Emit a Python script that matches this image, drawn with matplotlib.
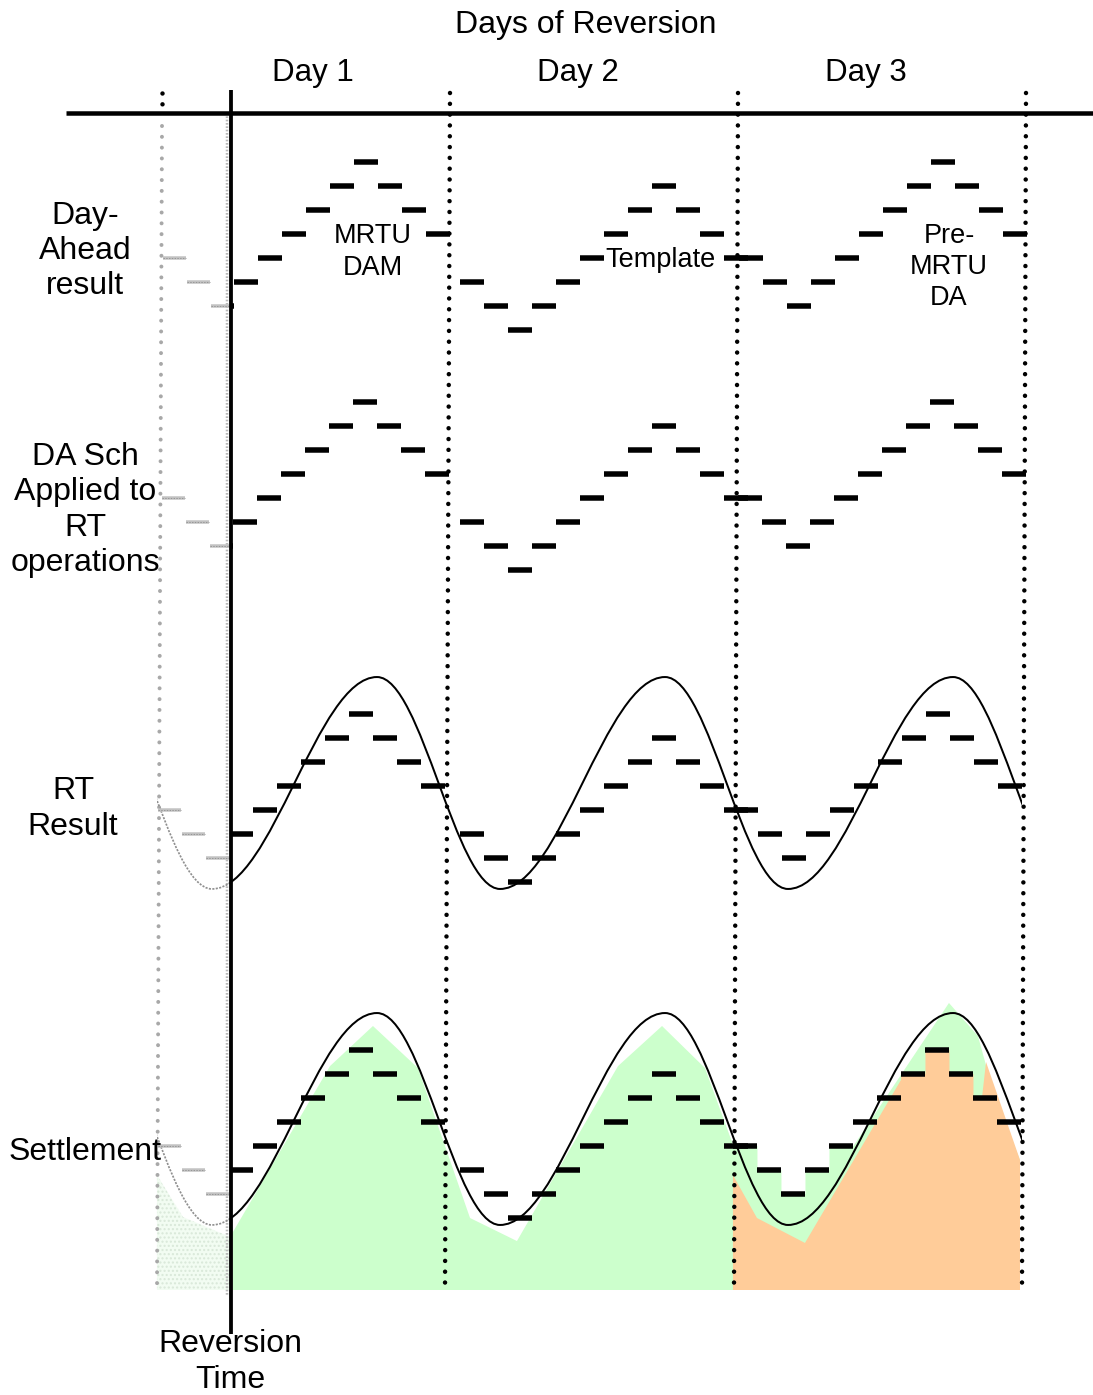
import matplotlib.pyplot as plt
from matplotlib.path import Path
from matplotlib.patches import PathPatch, Polygon, Rectangle

plt.rcParams["font.family"] = ["Liberation Sans", "DejaVu Sans"]
plt.rcParams["lines.scale_dashes"] = False

# ---------------- data: x in hours (day 1 starts at 0), y in schedule steps ----------------
DAY_LABELS = ["Day 1", "Day 2", "Day 3"]
ROW_LABELS = ["Day-\nAhead\nresult", "DA Sch\nApplied to\nRT\noperations", "RT\nResult", "Settlement"]
SOURCE_LABELS = ["MRTU\nDAM", "Template", "Pre-\nMRTU\nDA"]

SLOT_HOURS = 2
DAY1_LEVELS = [3, 2, 1, 2, 3, 4, 5, 6, 7, 6, 5, 4]
DAY2_LEVELS = [2, 1, 0, 1, 2, 3, 4, 5, 6, 5, 4, 3]   # template day
DAY3_LEVELS = [3, 2, 1, 2, 3, 4, 5, 6, 7, 6, 5, 4]
DAY_START_H = [0.0, 24.83, 48.08]
REVERSION_H = 5.67

# real-time curve: turning points (hour, level)
RT_EXTREMA_H = [-6.08, 4.17, 17.92, 28.17, 41.92, 52.17, 65.92, 76.17]
RT_EXTREMA_L = [8.54, -0.29, 8.54, -0.29, 8.54, -0.29, 8.54, -0.29]
RT_SPAN_H = (-0.42, 71.67)

# settlement areas (hour, level); day 3 parts also follow the DA steps
GREEN_A_H = [5.67, 5.67, 14.0, 17.58, 21.33, 25.67, 29.58, 38.0, 41.67, 45.25]
GREEN_A_L = [-3.0, -0.79, 6.33, 8.0, 6.25, 0.0, -0.96, 6.33, 8.0, 6.25]
GREEN_STEP_SLOTS = (0, 4)             # day-3 slots whose steps bound the green area
GREEN_B_H = [65.58, 68.0, 69.42, 71.5, 71.5]
GREEN_B_L = [8.96, 7.58, 5.0, 2.42, -3.0]

ORANGE_A_H = [47.58, 47.58, 49.58, 53.58, 61.58]
ORANGE_A_L = [-3.0, 1.79, 0.0, -1.04, 5.75]
ORANGE_STEP_SLOTS = (7, 9)
ORANGE_B_H = [68.33, 68.67, 71.5, 71.5]
ORANGE_B_L = [5.0, 6.5, 2.42, -3.0]

PRE_H = [-0.42, -0.42, 1.75, 5.67, 5.67]
PRE_L = [-3.0, 1.79, 0.04, -0.79, -3.0]

# ---------------- layout ----------------
W, H, DPI = 1093, 1395, 100
X0, PX_H, PX_L = 162, 12, 24          # pixel of hour 0, pixels per hour, pixels per step
ROW_BASE_PX = [330, 570, 882, 1218]   # pixel row of level 0 in each band
ROW_SKEW_PX = [0, -1, -5, -5.5]       # days 1 and 3 drift left further down
PT = 72 / DPI
LEVELS = [DAY1_LEVELS, DAY2_LEVELS, DAY3_LEVELS]


def P(x, y):
    return (x - X0) / PX_H, -y / PX_L


def row_y(r, lev):
    return -ROW_BASE_PX[r] / PX_L + lev


def slot_start(r, d, k):
    shift = 0 if d == 1 else ROW_SKEW_PX[r] / PX_H
    return DAY_START_H[d] + k * SLOT_HOURS + shift


def steps(r, d, k0, k1):
    pts = []
    for k in range(k0, k1 + 1):
        h0 = slot_start(r, d, k)
        pts += [(h0, row_y(r, LEVELS[d][k])), (h0 + SLOT_HOURS, row_y(r, LEVELS[d][k]))]
    return pts


fig = plt.figure(figsize=(W / DPI, H / DPI), dpi=DPI)
ax = fig.add_axes([0, 0, 1, 1])
ax.set_xlim(-X0 / PX_H, (W - X0) / PX_H)
ax.set_ylim(-H / PX_L, 0)
ax.axis("off")

# settlement fills
green = ([(h, row_y(3, l)) for h, l in zip(GREEN_A_H, GREEN_A_L)]
         + steps(3, 2, *GREEN_STEP_SLOTS)
         + [(h, row_y(3, l)) for h, l in zip(GREEN_B_H, GREEN_B_L)])
ax.add_patch(Polygon(green, closed=True, facecolor="#ccffcc", edgecolor="none", zorder=1))

k_last = ORANGE_STEP_SLOTS[1]
orange = ([(h, row_y(3, l)) for h, l in zip(ORANGE_A_H, ORANGE_A_L)]
          + steps(3, 2, *ORANGE_STEP_SLOTS)
          + [(slot_start(3, 2, k_last + 1), row_y(3, DAY3_LEVELS[k_last + 1]))]
          + [(h, row_y(3, l)) for h, l in zip(ORANGE_B_H, ORANGE_B_L)])
ax.add_patch(Polygon(orange, closed=True, facecolor="#ffcc99", edgecolor="none", zorder=1.1))

ax.add_patch(Polygon([(h, row_y(3, l)) for h, l in zip(PRE_H, PRE_L)],
                     closed=True, facecolor="#f2fcf2", edgecolor="#d9e8d9", hatch="....",
                     linewidth=0, zorder=1))

# guide lines
dots = (0, (0.01, 10.8 * PT))
for xt, xb in [(450, 445), (738, 734), (1026, 1022)]:
    (a, b), (c, d) = P(xt, 93), P(xb, 1290)
    ax.plot([a, c], [b, d], color="black", lw=4.5 * PT, linestyle=dots,
            dash_capstyle="round", zorder=2)
(a, b), (c, d) = P(162, 126), P(157, 1290)
ax.plot([a, c], [b, d], color="#a8a8a8", lw=4 * PT, linestyle=dots,
        dash_capstyle="round", zorder=2)
(a, b), (c, d) = P(162, 93), P(162, 106)
ax.plot([a, c], [b, d], color="black", lw=4.5 * PT, linestyle=dots,
        dash_capstyle="round", zorder=2)
(a, b), (c, d) = P(227, 113), P(227, 1296)
ax.plot([a, c], [b, d], color="#b8b8b8", lw=2.5 * PT, linestyle=(0, (1.2, 1.2)), zorder=2)

(a, b), (c, d) = P(66, 113), P(W, 113)
ax.plot([a, c], [b, d], color="black", lw=4.5 * PT, solid_capstyle="butt", zorder=6)
(a, b), (c, d) = P(230.5, 90), P(230.5, 1334)
ax.plot([a, c], [b, d], color="black", lw=3.8 * PT, solid_capstyle="butt", zorder=6)


# real-time curves in rows 3 and 4
def wave_path(r):
    verts = [(RT_EXTREMA_H[0], row_y(r, RT_EXTREMA_L[0]))]
    codes = [Path.MOVETO]
    for i in range(len(RT_EXTREMA_H) - 1):
        h0, h1 = RT_EXTREMA_H[i], RT_EXTREMA_H[i + 1]
        l0, l1 = RT_EXTREMA_L[i], RT_EXTREMA_L[i + 1]
        d = h1 - h0
        verts += [(h0 + 0.364 * d, row_y(r, l0)), (h1 - 0.364 * d, row_y(r, l1)),
                  (h1, row_y(r, l1))]
        codes += [Path.CURVE4] * 3
    return Path(verts, codes)


for r in (2, 3):
    path = wave_path(r)
    for lo, hi, col, ls, lw in [(RT_SPAN_H[0], REVERSION_H, "#8f8f8f", (0, (1.5, 1)), 1.7),
                                (REVERSION_H, RT_SPAN_H[1], "black", "-", 2.0)]:
        pp = PathPatch(path, fill=False, edgecolor=col, linestyle=ls, lw=lw * PT, zorder=3)
        ax.add_patch(pp)
        pp.set_clip_path(Rectangle((lo, -H / PX_L), hi - lo, H / PX_L, transform=ax.transData))

# schedule bars in every row
for r in range(4):
    for d, lev in enumerate(LEVELS):
        for k, l in enumerate(lev):
            h0 = slot_start(r, d, k)
            h1 = h0 + SLOT_HOURS
            y = row_y(r, l)
            if h0 < REVERSION_H:
                ax.plot([h0 + 0.1, min(h1, REVERSION_H)], [y, y], color="#c2c2c2",
                        lw=3.5 * PT, solid_capstyle="butt", zorder=4)
                ax.plot([h0 + 0.1, min(h1, REVERSION_H)], [y, y], color="#8c8c8c",
                        lw=0.8 * PT, linestyle=(0, (1, 1)), zorder=4.1)
            if h1 > REVERSION_H:
                ax.plot([max(h0, REVERSION_H), h1], [y, y], color="black",
                        lw=5.5 * PT, solid_capstyle="butt", zorder=5)


# texts
def label(x, y, s, size=23, ls=1.23):
    ax.text(*P(x, y), s, ha="center", va="center", fontsize=size, linespacing=ls, zorder=7)


label(586, 25, "Days of Reversion")
for x, s in zip([313, 578, 866], DAY_LABELS):
    label(x, 73, s, size=22.5)
for (x, y), s in zip([(85, 251), (85, 510), (73, 809), (85, 1152)], ROW_LABELS):
    label(x, y, s)
for (x, y), s in zip([(373, 252), (661, 260), (949, 267)], SOURCE_LABELS):
    label(x, y, s, size=19.5, ls=1.27)
label(230, 1362, "Reversion\nTime")

fig.savefig("out.png", dpi=DPI)
